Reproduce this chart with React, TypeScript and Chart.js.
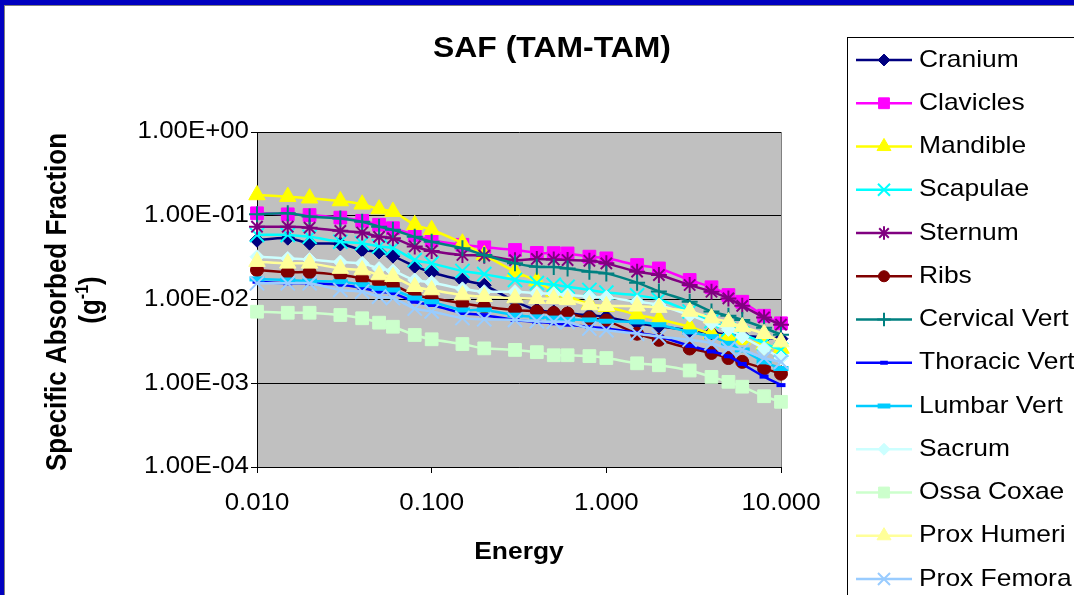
import React, { useEffect, useRef } from "react";
import { Chart, registerables } from "chart.js";
import { drawPoint } from "chart.js/helpers";

Chart.register(...registerables);

// ---------------- DATA ----------------
const energies = [0.01, 0.015, 0.02, 0.03, 0.04, 0.05, 0.06, 0.08, 0.1, 0.15, 0.2, 0.3, 0.4, 0.5, 0.6, 0.8, 1, 1.5, 2, 3, 4, 5, 6, 8, 10];

const cranium = [0.051, 0.054, 0.047, 0.046, 0.039, 0.037, 0.033, 0.025, 0.021, 0.017, 0.0148, 0.0095, 0.0075, 0.0071, 0.0068, 0.0065, 0.0062, 0.0052, 0.0048, 0.0043, 0.004, 0.0038, 0.0037, 0.0035, 0.0034];
const clavicles = [0.107, 0.104, 0.102, 0.095, 0.087, 0.078, 0.071, 0.059, 0.051, 0.045, 0.042, 0.039, 0.036, 0.0358, 0.0355, 0.0325, 0.031, 0.0258, 0.0235, 0.0171, 0.014, 0.0113, 0.0094, 0.0064, 0.0052];
const mandible = [0.177, 0.169, 0.162, 0.15, 0.137, 0.12, 0.112, 0.078, 0.068, 0.047, 0.034, 0.0215, 0.0166, 0.0125, 0.011, 0.0088, 0.0082, 0.0066, 0.0058, 0.0047, 0.0039, 0.0036, 0.0033, 0.0029, 0.0026];
const scapulae = [0.059, 0.059, 0.056, 0.049, 0.047, 0.043, 0.041, 0.0296, 0.027, 0.0219, 0.0201, 0.0171, 0.0157, 0.015, 0.0142, 0.013, 0.0121, 0.0112, 0.01, 0.0072, 0.0055, 0.0044, 0.0039, 0.003, 0.0025];
const sternum = [0.074, 0.074, 0.072, 0.066, 0.063, 0.056, 0.054, 0.043, 0.038, 0.034, 0.0334, 0.0295, 0.0305, 0.03, 0.0296, 0.029, 0.027, 0.0215, 0.0196, 0.0149, 0.0124, 0.0103, 0.0084, 0.0061, 0.005];
const ribs = [0.0225, 0.0212, 0.0212, 0.0196, 0.0178, 0.0157, 0.015, 0.0113, 0.0104, 0.009, 0.0082, 0.0075, 0.0072, 0.0069, 0.0068, 0.006, 0.0056, 0.0039, 0.0033, 0.0026, 0.0023, 0.002, 0.0018, 0.0015, 0.0013];
const cervicalVert = [0.104, 0.107, 0.098, 0.093, 0.085, 0.074, 0.068, 0.056, 0.049, 0.041, 0.034, 0.027, 0.0246, 0.0244, 0.0235, 0.0215, 0.0205, 0.0159, 0.0125, 0.0094, 0.0072, 0.0064, 0.0057, 0.0046, 0.0038];
const thoracicVert = [0.0163, 0.0156, 0.0156, 0.015, 0.0137, 0.0124, 0.0119, 0.0094, 0.0086, 0.0069, 0.0065, 0.0057, 0.0054, 0.0052, 0.005, 0.0047, 0.0045, 0.004, 0.0036, 0.0028, 0.0024, 0.0021, 0.0017, 0.0012, 0.00095];
const lumbarVert = [0.0176, 0.0171, 0.0166, 0.0163, 0.015, 0.0136, 0.013, 0.0104, 0.0094, 0.0075, 0.0075, 0.0065, 0.0062, 0.006, 0.0058, 0.0057, 0.0055, 0.0054, 0.005, 0.0041, 0.0036, 0.003, 0.0025, 0.0018, 0.0015];
const sacrum = [0.0324, 0.0309, 0.03, 0.028, 0.027, 0.0234, 0.0219, 0.0171, 0.016, 0.0134, 0.0124, 0.0124, 0.0119, 0.0117, 0.0113, 0.0108, 0.0106, 0.0094, 0.0086, 0.0065, 0.0052, 0.0044, 0.0036, 0.0026, 0.002];
const ossaCoxae = [0.00715, 0.00695, 0.00695, 0.00653, 0.00597, 0.00529, 0.00473, 0.00377, 0.00335, 0.00294, 0.00261, 0.0025, 0.00235, 0.00216, 0.00216, 0.00211, 0.002, 0.00173, 0.00164, 0.00142, 0.00119, 0.00104, 0.00091, 0.0007, 0.0006];
const proxHumeri = [0.0283, 0.027, 0.027, 0.0234, 0.0225, 0.0196, 0.0187, 0.0142, 0.013, 0.0113, 0.0108, 0.0104, 0.0102, 0.0102, 0.0099, 0.0086, 0.0084, 0.0083, 0.008, 0.0072, 0.006, 0.0054, 0.0047, 0.0039, 0.0031];
const proxFemora = [0.0156, 0.0156, 0.0156, 0.013, 0.0124, 0.0108, 0.0104, 0.0078, 0.0072, 0.006, 0.0058, 0.0057, 0.0055, 0.0054, 0.0054, 0.0045, 0.0043, 0.0039, 0.0036, 0.0033, 0.003, 0.0026, 0.0025, 0.002, 0.0018];

const seriesNames = ["Cranium", "Clavicles", "Mandible", "Scapulae", "Sternum", "Ribs", "Cervical Vert", "Thoracic Vert", "Lumbar Vert", "Sacrum", "Ossa Coxae", "Prox Humeri", "Prox Femora"];
const seriesValues = [cranium, clavicles, mandible, scapulae, sternum, ribs, cervicalVert, thoracicVert, lumbarVert, sacrum, ossaCoxae, proxHumeri, proxFemora];

const yTickValues = [1, 0.1, 0.01, 0.001, 0.0001];
const yTickLabels = ["1.00E+00", "1.00E-01", "1.00E-02", "1.00E-03", "1.00E-04"];
const xTickValues = [0.01, 0.1, 1, 10];
const xTickLabels = ["0.010", "0.100", "1.000", "10.000"];

const chartTitle = "SAF (TAM-TAM)";
const xTitle = "Energy";
const yTitleLine1 = "Specific Absorbed Fraction";
const yTitleLine2a = "(g";
const yTitleSup = "-1";
const yTitleLine2b = ")";

// ---------------- STYLES ----------------
const seriesStyles = [
  { color: "#000080", point: "rectRot", r: 7, bw: 1 },
  { color: "#FF00FF", point: "rect", r: 9, bw: 1 },
  { color: "#FFFF00", point: "triangle", r: 9.5, bw: 1 },
  { color: "#00FFFF", point: "crossRot", r: 10, bw: 2 },
  { color: "#800080", point: "star", r: 8, bw: 2 },
  { color: "#800000", point: "circle", r: 6.5, bw: 1 },
  { color: "#008080", point: "cross", r: 8, bw: 2 },
  { color: "#0000FF", point: "line", r: 4.5, bw: 4 },
  { color: "#00CCFF", point: "line", r: 7.5, bw: 5 },
  { color: "#CCFFFF", point: "rectRot", r: 7, bw: 1 },
  { color: "#CCFFCC", point: "rect", r: 9, bw: 1 },
  { color: "#FFFF99", point: "triangle", r: 9.5, bw: 1 },
  { color: "#99CCFF", point: "crossRot", r: 10, bw: 2 },
];

const W = 1074;
const H = 595;
const SX = 1.1;
const FONT = '"Liberation Sans", Arial, Helvetica, sans-serif';
const PLOT_LEFT = 257;
const PLOT_RIGHT = 781;
const PLOT_TOP = 132;
const PLOT_BOTTOM = 467;

function drawText(ctx: CanvasRenderingContext2D, str: string, x: number, y: number, size: number, bold: boolean, align: CanvasTextAlign) {
  ctx.save();
  ctx.font = `${bold ? "bold " : ""}${size}px ${FONT}`;
  ctx.fillStyle = "#000";
  ctx.textBaseline = "middle";
  ctx.textAlign = align;
  ctx.translate(x, y);
  ctx.scale(SX, 1);
  ctx.fillText(str, 0, 0);
  ctx.restore();
}

const excelPlugin = {
  id: "excelLook",
  beforeDraw(chart: any) {
    const ctx = chart.ctx as CanvasRenderingContext2D;
    const a = chart.chartArea;
    ctx.save();
    ctx.fillStyle = "#0000C0";
    ctx.fillRect(0, 0, W, H);
    ctx.fillStyle = "#808080";
    ctx.fillRect(4, 5, W, H);
    ctx.fillStyle = "#FFFFFF";
    ctx.fillRect(5, 6, W, H);
    ctx.fillStyle = "#C0C0C0";
    ctx.fillRect(a.left, a.top, a.right - a.left, a.bottom - a.top);
    ctx.restore();
  },
  beforeDatasetsDraw(chart: any) {
    const ctx = chart.ctx as CanvasRenderingContext2D;
    const a = chart.chartArea;
    ctx.save();
    ctx.strokeStyle = "#808080";
    ctx.lineWidth = 1;
    ctx.beginPath();
    ctx.moveTo(Math.round(a.right) + 0.5, a.top);
    ctx.lineTo(Math.round(a.right) + 0.5, a.bottom);
    ctx.stroke();
    ctx.restore();
  },
  afterDraw(chart: any) {
    const ctx = chart.ctx as CanvasRenderingContext2D;
    const a = chart.chartArea;
    const xs = chart.scales.x;
    const ys = chart.scales.y;
    // tick labels
    yTickValues.forEach((v, i) => {
      drawText(ctx, yTickLabels[i], a.left - 8, ys.getPixelForValue(v), 23.5, false, "right");
    });
    xTickValues.forEach((v, i) => {
      drawText(ctx, xTickLabels[i], xs.getPixelForValue(v), a.bottom + 37, 23.5, false, "center");
    });
    // titles
    drawText(ctx, chartTitle, 552, 49, 29, true, "center");
    drawText(ctx, xTitle, (a.left + a.right) / 2, 552, 24, true, "center");
    // y title (rotated)
    ctx.save();
    ctx.fillStyle = "#000";
    ctx.textBaseline = "middle";
    ctx.translate(58, 302);
    ctx.rotate(-Math.PI / 2);
    ctx.scale(1, SX);
    ctx.font = `bold 26px ${FONT}`;
    ctx.textAlign = "center";
    ctx.fillText(yTitleLine1, 0, 0);
    ctx.restore();

    ctx.save();
    ctx.fillStyle = "#000";
    ctx.textBaseline = "middle";
    ctx.translate(92, 300);
    ctx.rotate(-Math.PI / 2);
    ctx.scale(1, SX);
    ctx.font = `bold 26px ${FONT}`;
    const wa = ctx.measureText(yTitleLine2a).width;
    const wb = ctx.measureText(yTitleLine2b).width;
    ctx.font = `bold 16px ${FONT}`;
    const ws = ctx.measureText(yTitleSup).width;
    const total = wa + ws + wb;
    let cx = -total / 2;
    ctx.textAlign = "left";
    ctx.font = `bold 26px ${FONT}`;
    ctx.fillText(yTitleLine2a, cx, 0);
    cx += wa;
    ctx.font = `bold 16px ${FONT}`;
    ctx.fillText(yTitleSup, cx, -8);
    cx += ws;
    ctx.font = `bold 26px ${FONT}`;
    ctx.fillText(yTitleLine2b, cx, 0);
    ctx.restore();

    // legend
    ctx.save();
    ctx.fillStyle = "#FFFFFF";
    ctx.fillRect(848, 37, 400, 700);
    ctx.strokeStyle = "#000";
    ctx.lineWidth = 1;
    ctx.strokeRect(847.5, 37.5, 400, 700);
    ctx.restore();
    seriesNames.forEach((name, i) => {
      const st = seriesStyles[i];
      const y = 60 + i * 43.25;
      ctx.save();
      ctx.strokeStyle = st.color;
      ctx.fillStyle = st.color;
      ctx.lineWidth = 2.5;
      ctx.beginPath();
      ctx.moveTo(856, y);
      ctx.lineTo(912, y);
      ctx.stroke();
      ctx.lineWidth = st.bw;
      drawPoint(ctx, { pointStyle: st.point, radius: st.r * 0.85, borderWidth: st.bw, rotation: 0 } as any, 884, y);
      ctx.restore();
      drawText(ctx, name, 919, y, 24, false, "left");
    });
  },
};

export default function App() {
  const canvasRef = useRef<HTMLCanvasElement | null>(null);

  useEffect(() => {
    const canvas = canvasRef.current;
    if (!canvas) return;
    const n = seriesNames.length;
    const datasets = seriesNames.map((name, i) => {
      const st = seriesStyles[i];
      return {
        label: name,
        data: energies.map((e, k) => ({ x: e, y: seriesValues[i][k] })),
        borderColor: st.color,
        backgroundColor: st.color,
        borderWidth: 2.5,
        pointStyle: st.point,
        pointRadius: st.r,
        pointBorderWidth: st.bw,
        pointBackgroundColor: st.color,
        pointBorderColor: st.color,
        tension: 0.3,
        clip: false,
        order: n - i,
      };
    });

    const chart = new Chart(canvas, {
      type: "line",
      data: { datasets } as any,
      plugins: [excelPlugin],
      options: {
        animation: false,
        responsive: false,
        devicePixelRatio: 1,
        events: [],
        layout: {
          padding: { left: 100, right: W - PLOT_RIGHT, top: PLOT_TOP, bottom: 40 },
        },
        plugins: {
          legend: { display: false },
          title: { display: false },
          tooltip: { enabled: false },
        },
        scales: {
          x: {
            type: "logarithmic",
            min: 0.01,
            max: 10,
            afterBuildTicks: (s: any) => {
              s.ticks = xTickValues.map((v) => ({ value: v }));
            },
            afterFit: (s: any) => {
              s.height = H - PLOT_BOTTOM - 40;
            },
            ticks: { display: false },
            grid: { drawOnChartArea: false, drawTicks: true, tickLength: 6, color: "#000", lineWidth: 1 },
            border: { display: true, color: "#000", width: 1 },
          },
          y: {
            type: "logarithmic",
            min: 0.0001,
            max: 1,
            afterBuildTicks: (s: any) => {
              s.ticks = yTickValues.map((v) => ({ value: v }));
            },
            afterFit: (s: any) => {
              s.width = PLOT_LEFT - 100;
            },
            ticks: { display: false },
            grid: { drawTicks: true, tickLength: 6, color: "#000", lineWidth: 1 },
            border: { display: true, color: "#000", width: 1 },
          },
        },
      } as any,
    });
    return () => chart.destroy();
  }, []);

  return (
    <div style={{ position: "absolute", left: 0, top: 0, width: W, height: H, overflow: "hidden" }}>
      <canvas ref={canvasRef} width={W} height={H} style={{ display: "block", width: W, height: H }} />
    </div>
  );
}
